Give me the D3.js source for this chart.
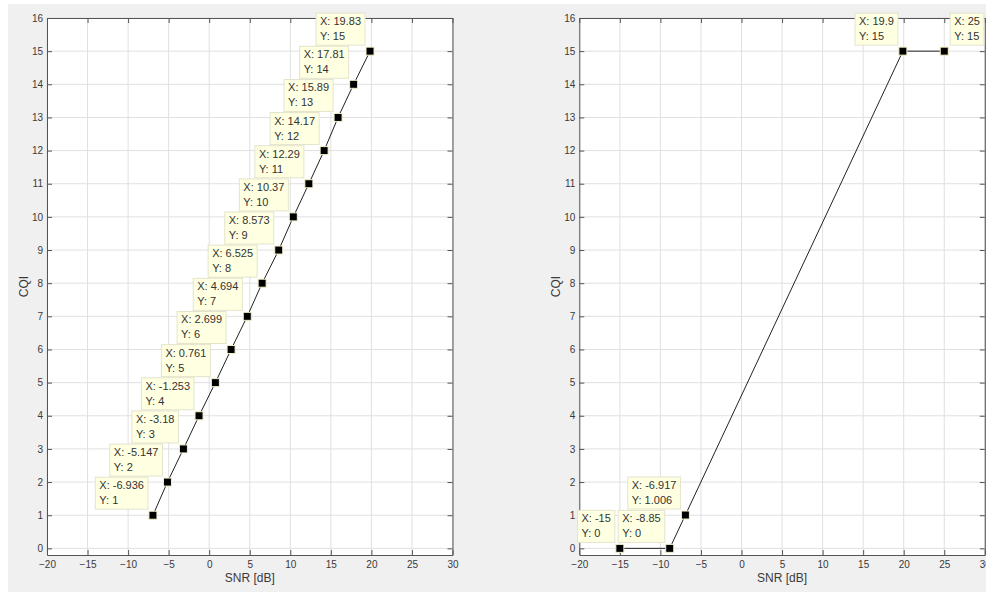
<!DOCTYPE html>
<html><head><meta charset="utf-8">
<script src="https://cdnjs.cloudflare.com/ajax/libs/d3/7.8.5/d3.min.js"></script>
<style>
html,body{margin:0;padding:0;background:#fff;}
svg{display:block;font-family:"Liberation Sans",Arial,sans-serif;}
</style></head>
<body>
<svg id="chart" width="986" height="592"></svg>
<script>
// ---- data ----
const leftSNR = [-6.936, -5.147, -3.18, -1.253, 0.761, 2.699, 4.694, 6.525, 8.573, 10.37, 12.29, 14.17, 15.89, 17.81, 19.83];
const leftCQI = [1, 2, 3, 4, 5, 6, 7, 8, 9, 10, 11, 12, 13, 14, 15];
const rightSNR = [-15, -8.85, -6.917, 19.9, 25];
const rightCQI = [0, 0, 1.006, 15, 15];
const xTickValues = [-20, -15, -10, -5, 0, 5, 10, 15, 20, 25, 30];
const yTickValues = [0, 1, 2, 3, 4, 5, 6, 7, 8, 9, 10, 11, 12, 13, 14, 15, 16];
const xLabel = "SNR [dB]";
const yLabel = "CQI";

const svg = d3.select("#chart");
svg.append("rect").attr("x", 8).attr("y", 4).attr("width", 978).attr("height", 588).attr("fill", "#f0f0f0");

const axisColor = "#555";
const textColor = "#3a3a3a";
const gridColor = "#e0e0e0";

function panel(left, xs, ys, opts) {
  const top = 18, bottom = 555, width = 405.5;
  const x = d3.scaleLinear().domain([-20, 30]).range([left, left + width]);
  const y = d3.scaleLinear().domain([-0.2, 16]).range([bottom, top]);
  const g = svg.append("g");
  g.append("rect").attr("x", left).attr("y", top).attr("width", width).attr("height", bottom - top).attr("fill", "#fff");
  // grid
  g.selectAll(".gx").data(xTickValues).enter().append("line")
    .attr("x1", d => x(d)).attr("x2", d => x(d)).attr("y1", top).attr("y2", bottom)
    .attr("stroke", gridColor).attr("stroke-width", 1);
  g.selectAll(".gy").data(yTickValues).enter().append("line")
    .attr("x1", left).attr("x2", left + width).attr("y1", d => y(d)).attr("y2", d => y(d))
    .attr("stroke", gridColor).attr("stroke-width", 1);
  // axes
  const ax = g.append("g").attr("transform", `translate(0,${bottom})`)
    .call(d3.axisBottom(x).tickValues(xTickValues).tickSizeInner(-5).tickSizeOuter(0).tickPadding(6));
  const axTop = g.append("g").attr("transform", `translate(0,${top})`)
    .call(d3.axisTop(x).tickValues(xTickValues).tickSizeInner(-5).tickSizeOuter(0).tickFormat(""));
  const ay = g.append("g").attr("transform", `translate(${left},0)`)
    .call(d3.axisLeft(y).tickValues(yTickValues).tickSizeInner(-5).tickSizeOuter(0).tickPadding(4));
  const ayR = g.append("g").attr("transform", `translate(${left + width},0)`)
    .call(d3.axisRight(y).tickValues(yTickValues).tickSizeInner(-5).tickSizeOuter(0).tickFormat(""));
  [ax, axTop, ay, ayR].forEach(a => {
    a.select(".domain").attr("stroke", axisColor);
    a.selectAll(".tick line").attr("stroke", axisColor);
    a.selectAll(".tick text").attr("fill", textColor).attr("font-size", 10)
      .attr("font-family", '"Liberation Sans",Arial,sans-serif');
  });
  g.append("text").attr("x", left + width / 2).attr("y", 582).attr("text-anchor", "middle")
    .attr("font-size", 12).attr("fill", textColor).text(xLabel);
  g.append("text").attr("transform", `translate(${left - 19.5},${(top + bottom) / 2}) rotate(-90)`)
    .attr("text-anchor", "middle").attr("font-size", 12).attr("fill", textColor).text(yLabel);

  const pts = xs.map((v, i) => ({ x: v, y: ys[i] }));
  g.append("path").datum(pts)
    .attr("d", d3.line().x(d => x(d.x)).y(d => y(d.y)))
    .attr("fill", "none").attr("stroke", "#222").attr("stroke-width", 1);
  // markers
  g.selectAll(".m").data(pts).enter().append("rect")
    .attr("x", d => x(d.x) - 4).attr("y", d => y(d.y) - 4).attr("width", 8).attr("height", 8)
    .attr("fill", "#000").attr("stroke", "#f4f0c8").attr("stroke-width", 1);
  // datatips
  pts.forEach((d, i) => {
    const px = x(d.x), py = y(d.y);
    const tg = g.append("g");
    const r = tg.append("rect").attr("fill", "#ffffe1").attr("stroke", "#e4e4cc").attr("stroke-width", 1);
    const t1 = tg.append("text").attr("font-size", 11).attr("fill", "#333").text("X: " + d.x);
    const t2 = tg.append("text").attr("font-size", 11).attr("fill", "#333").text("Y: " + d.y);
    const w = Math.max(t1.node().getComputedTextLength(), t2.node().getComputedTextLength()) + 8;
    const h = 32;
    const flip = opts && opts.flipLast && i === pts.length - 1;
    const bx = flip ? px + 6 : px - 5 - w;
    const by = py - 6 - h;
    r.attr("x", bx).attr("y", by).attr("width", w).attr("height", h);
    t1.attr("x", bx + 4).attr("y", by + 12);
    t2.attr("x", bx + 4).attr("y", by + 27);
  });
}

panel(47, leftSNR, leftCQI);
panel(579.3, rightSNR, rightCQI, { flipLast: true });
</script>
</body></html>
